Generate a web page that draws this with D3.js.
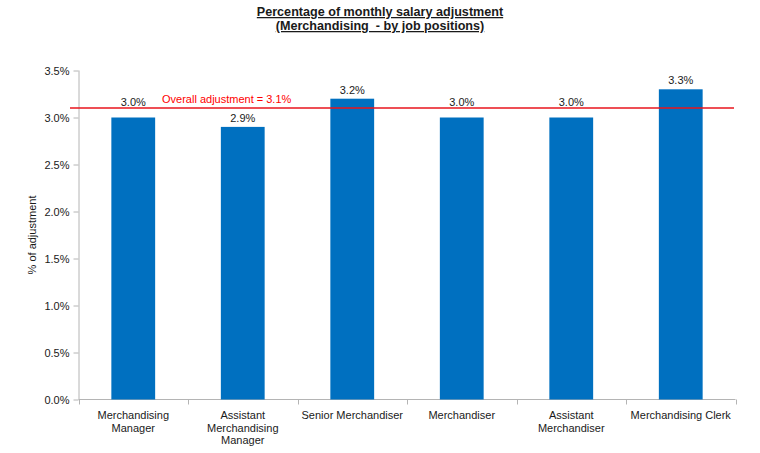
<!DOCTYPE html>
<html>
<head>
<meta charset="utf-8">
<script src="https://cdn.jsdelivr.net/npm/d3@7"></script>
<style>
  body { margin: 0; background: #fff; }
  text { font-family: "Liberation Sans", Arial, sans-serif; fill: #1a1a1a; }
</style>
</head>
<body>
<div id="chart"></div>
<script>
const positions = [
  ['Merchandising', 'Manager'],
  ['Assistant', 'Merchandising', 'Manager'],
  ['Senior Merchandiser'],
  ['Merchandiser'],
  ['Assistant', 'Merchandiser'],
  ['Merchandising Clerk'],
];
const adjustments = [3.0, 2.9, 3.2, 3.0, 3.0, 3.3];
const overall = 3.1;
const yTicks = [0, 0.5, 1.0, 1.5, 2.0, 2.5, 3.0, 3.5];

const width = 760;
const height = 453;
const margin = { top: 70.5, right: 24.5, bottom: 53.5, left: 78.5 };

const svg = d3.select('#chart').append('svg')
  .attr('width', width)
  .attr('height', height);

const x = d3.scaleBand()
  .domain(d3.range(positions.length))
  .range([margin.left, width - margin.right])
  .paddingInner(0.6)
  .paddingOuter(0.3);

const xGroup = d3.scaleBand()
  .domain(d3.range(positions.length))
  .range([margin.left, width - margin.right]);

const y = d3.scaleLinear()
  .domain([0, 3.5])
  .range([height - margin.bottom, margin.top]);

// title
const title = svg.append('text')
  .attr('text-anchor', 'middle')
  .style('font-size', '12.6px')
  .style('font-weight', 'bold')
  .style('text-decoration', 'underline');
title.append('tspan').attr('x', 380).attr('y', 16).text('Percentage of monthly salary adjustment');
title.append('tspan').attr('x', 380).attr('y', 30).text('(Merchandising\u00a0 - by job positions)');

// y axis
const yAxis = svg.append('g')
  .attr('transform', `translate(${margin.left},0)`)
  .call(d3.axisLeft(y).tickValues(yTicks).tickSize(5).tickPadding(4)
    .tickFormat((d) => d.toFixed(1) + '%'));
yAxis.selectAll('path, line').attr('stroke', '#b4b4b4');
yAxis.selectAll('text').style('font-size', '11px').attr('fill', '#1a1a1a');
yAxis.select('.domain').attr('d', `M0.5,${y(3.5)}V${y(0)}`);

// x axis
const xAxisG = svg.append('g');
xAxisG.append('line')
  .attr('x1', margin.left).attr('x2', width - margin.right)
  .attr('y1', y(0)).attr('y2', y(0))
  .attr('stroke', '#b4b4b4');
xAxisG.selectAll('.tick')
  .data(d3.range(positions.length + 1))
  .join('line')
  .attr('x1', (d) => Math.round(margin.left + d * xGroup.bandwidth()) + 0.5)
  .attr('x2', (d) => Math.round(margin.left + d * xGroup.bandwidth()) + 0.5)
  .attr('y1', y(0)).attr('y2', y(0) + 5)
  .attr('stroke', '#b4b4b4');

// category labels
positions.forEach((lines, i) => {
  const t = svg.append('text')
    .attr('text-anchor', 'middle')
    .style('font-size', '11px');
  lines.forEach((l, j) => {
    t.append('tspan')
      .attr('x', xGroup(i) + xGroup.bandwidth() / 2)
      .attr('y', 419 + j * 12.5)
      .text(l);
  });
});

// y label
svg.append('text')
  .attr('transform', `translate(36,${(y(0) + y(3.5)) / 2}) rotate(-90)`)
  .attr('text-anchor', 'middle')
  .style('font-size', '11px')
  .text('% of adjustment');

// bars
svg.selectAll('.bar')
  .data(adjustments)
  .join('rect')
  .attr('class', 'bar')
  .attr('x', (d, i) => x(i))
  .attr('width', x.bandwidth())
  .attr('y', (d) => y(d))
  .attr('height', (d) => y(0) - y(d))
  .attr('fill', '#0070c0');

// value labels, nudged above the overall line where they would cross it
const lineY = y(overall);
function labelY(d) {
  const base = y(d) - 5;
  if (base > lineY && base - 10 < lineY) return lineY - 2;
  return base;
}
svg.selectAll('.val')
  .data(adjustments)
  .join('text')
  .attr('class', 'val')
  .attr('x', (d, i) => x(i) + x.bandwidth() / 2)
  .attr('y', labelY)
  .attr('text-anchor', 'middle')
  .style('font-size', '11px')
  .text((d) => d.toFixed(1) + '%');

// overall line
svg.append('line')
  .attr('x1', 70).attr('x2', 734)
  .attr('y1', lineY).attr('y2', lineY)
  .attr('stroke', '#e8141c')
  .attr('stroke-width', 1.5);

svg.append('text')
  .attr('x', 162)
  .attr('y', lineY - 5)
  .style('font-size', '11px')
  .style('fill', '#ff0000')
  .text(`Overall adjustment = ${overall}%`);
</script>
</body>
</html>
